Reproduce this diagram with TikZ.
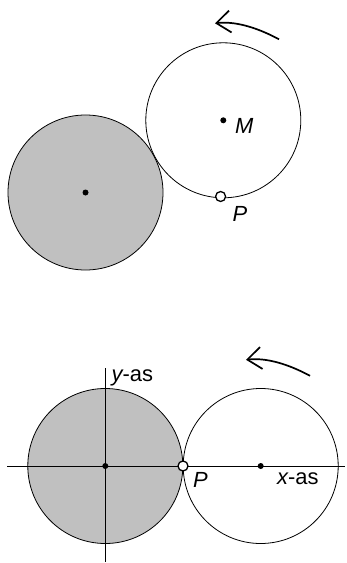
\documentclass[tikz,border=0pt]{standalone}
\usepackage{fontspec}
\newfontfamily\labfont{Liberation Sans}
\usetikzlibrary{arrows.meta}
\definecolor{fillgray}{RGB}{192,192,192}
\begin{document}
\begin{tikzpicture}[x=1bp,y=-1bp,
  wheel/.style={circle,draw=black,line width=0.8bp,minimum size=155bp,inner sep=0pt},
  fixedwheel/.style={wheel,fill=fillgray},
  cdot/.style={circle,fill=black,minimum size=6bp,inner sep=0pt},
  pmark/.style={circle,draw=black,fill=white,line width=1.3bp,minimum size=10bp,inner sep=0pt},
  lab/.style={anchor=base west,inner sep=0pt,font=\labfont\fontsize{22}{24}\selectfont},
  axis/.style={line width=0.8bp},
  turn/.style={line width=1.7bp,-{Straight Barb[length=14bp,width=22bp,line width=1.7bp]}}]
\useasboundingbox (0,0) rectangle (346,563);
% ---- top figure ----
\node[fixedwheel] (g1) at (85.5,192.5) {};
\node[wheel] (w1) at (223.3,120.3) {};
\node[cdot] (c1) at (g1.center) {};
\node[cdot] (m1) at (w1.center) {};
\node[pmark] (p1) at (220.6,196.5) {};
\node[lab] (lM) at (235,133.5) {\itshape M};
\node[lab] (lP1) at (232.5,221.5) {\itshape P};
\coordinate (a1s) at (279,39.3);
\coordinate (a1e) at (215,23.3);
\draw[turn] (a1s) .. controls (255,26.4) and (233.7,21.1) .. (a1e);
% ---- bottom figure ----
\node[fixedwheel] (g2) at (105.3,466) {};
\node[wheel] (w2) at (260.7,466) {};
\coordinate (xl) at (7,466);
\coordinate (xr) at (345,466);
\coordinate (yt) at (105.3,368);
\coordinate (yb) at (105.3,562);
\draw[axis] (xl) -- (xr);
\draw[axis] (yt) -- (yb);
\node[cdot] (c2) at (g2.center) {};
\node[cdot] (m2) at (w2.center) {};
\node[pmark] (p2) at (183,466) {};
\node[lab] (lY) at (111.5,381) {{\itshape y}-as};
\node[lab] (lP2) at (193,487.5) {\itshape P};
\node[lab] (lX) at (277,484) {{\itshape x}-as};
\coordinate (a2s) at (310,375.8);
\coordinate (a2e) at (246,359.8);
\draw[turn] (a2s) .. controls (286,362.9) and (264.7,357.6) .. (a2e);
\end{tikzpicture}
\end{document}
